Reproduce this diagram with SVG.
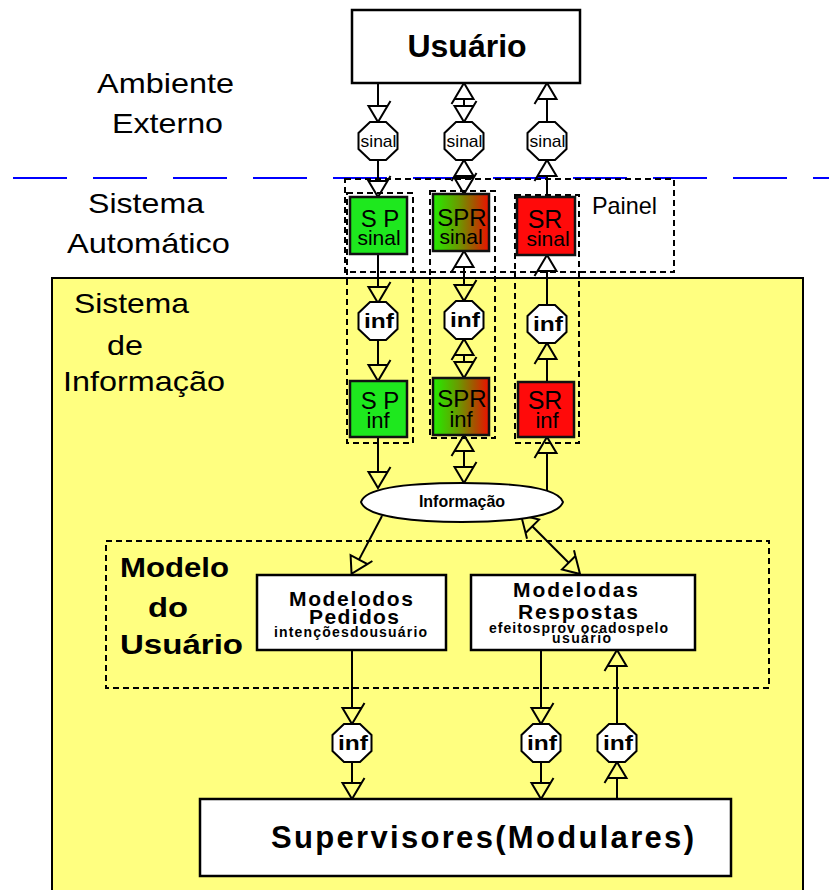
<svg xmlns="http://www.w3.org/2000/svg" width="829" height="890" viewBox="0 0 829 890">
<style>
.lbl{font-family:"Liberation Sans",Arial,sans-serif;fill:#000}
.b{font-weight:bold}
.c{text-anchor:middle}
.con{stroke:#000;stroke-width:2;fill:none}
.dash{stroke:#000;stroke-width:2;fill:none;stroke-dasharray:6 4}
.box{stroke:#111;stroke-width:2.5}
.oct{fill:#fff;stroke:#000;stroke-width:2}
.wbox{fill:#fff;stroke:#000;stroke-width:2.5}
</style>
<defs>
<marker id="ar" markerUnits="userSpaceOnUse" viewBox="-8 -14 26 28" refX="0" refY="0" markerWidth="26" markerHeight="28" orient="auto-start-reverse" overflow="visible">
<path d="M0,-9.5 L16,0 L0,9.5 Z M0,-9.5 L-5,-12.5" fill="none" stroke="#000" stroke-width="2" stroke-linejoin="miter"/>
</marker>
<path id="oct" d="M-8,-19 L8,-19 L19.5,-8 L19.5,8 L8,19 L-8,19 L-19.5,8 L-19.5,-8 Z"/>
<linearGradient id="spr" x1="0" y1="0" x2="1" y2="0">
<stop offset="0" stop-color="#22ee00"/>
<stop offset="0.45" stop-color="#6a9a00"/>
<stop offset="0.75" stop-color="#a85000"/>
<stop offset="1" stop-color="#ee1000"/>
</linearGradient>
</defs>
<rect width="829" height="890" fill="#fff"/>
<g id="sistema-informacao">
<rect x="52" y="278" width="751" height="630" fill="#ffff80" stroke="#000" stroke-width="2"/>
<text class="lbl" x="74" y="313" font-size="28" textLength="115" lengthAdjust="spacingAndGlyphs">Sistema</text>
<text class="lbl" x="107" y="355" font-size="28" textLength="36" lengthAdjust="spacingAndGlyphs">de</text>
<text class="lbl" x="63" y="391" font-size="28" textLength="162" lengthAdjust="spacingAndGlyphs">Informação</text>
</g>
<line x1="13" y1="178" x2="829" y2="178" stroke="#0000ff" stroke-width="2" stroke-dasharray="54 26"/>
<g id="labels">
<text class="lbl" x="97" y="93" font-size="28" textLength="137" lengthAdjust="spacingAndGlyphs">Ambiente</text>
<text class="lbl" x="112" y="133" font-size="28" textLength="111" lengthAdjust="spacingAndGlyphs">Externo</text>
<text class="lbl" x="88" y="213" font-size="28" textLength="116" lengthAdjust="spacingAndGlyphs">Sistema</text>
<text class="lbl" x="67" y="253" font-size="28" textLength="163" lengthAdjust="spacingAndGlyphs">Automático</text>
</g>
<g id="painel">
<rect class="dash" x="345" y="179" width="329" height="93"/>
<text class="lbl" x="592" y="214" font-size="24" textLength="65" lengthAdjust="spacingAndGlyphs">Painel</text>
</g>
<g id="colunas">
<rect class="dash" x="347" y="193" width="66" height="250"/>
<rect class="dash" x="430" y="191" width="65" height="247"/>
<rect class="dash" x="515" y="195" width="64" height="248"/>
</g>
<g id="modelo-usuario">
<rect class="dash" x="106" y="541" width="663" height="147"/>
<text class="lbl b" x="120" y="577" font-size="28" textLength="109" lengthAdjust="spacingAndGlyphs">Modelo</text>
<text class="lbl b" x="148" y="617" font-size="28" textLength="40" lengthAdjust="spacingAndGlyphs">do</text>
<text class="lbl b" x="120" y="654" font-size="28" textLength="123" lengthAdjust="spacingAndGlyphs">Usuário</text>
</g>
<g id="connectors" class="con">
<line x1="378" y1="83" x2="378" y2="106" marker-end="url(#ar)"/>
<line x1="378" y1="160" x2="378" y2="181" marker-end="url(#ar)"/>
<line x1="378" y1="254" x2="378" y2="287" marker-end="url(#ar)"/>
<line x1="378" y1="340" x2="378" y2="365" marker-end="url(#ar)"/>
<line x1="378" y1="437" x2="378" y2="472" marker-end="url(#ar)"/>
<line x1="464" y1="99" x2="464" y2="106" marker-start="url(#ar)" marker-end="url(#ar)"/>
<line x1="464" y1="176" x2="464" y2="178" marker-start="url(#ar)" marker-end="url(#ar)"/>
<line x1="464" y1="267" x2="464" y2="285" marker-start="url(#ar)" marker-end="url(#ar)"/>
<line x1="464" y1="355" x2="464" y2="362" marker-start="url(#ar)" marker-end="url(#ar)"/>
<line x1="464" y1="451" x2="464" y2="467" marker-start="url(#ar)" marker-end="url(#ar)"/>
<line x1="547" y1="122" x2="547" y2="99" marker-end="url(#ar)"/>
<line x1="547" y1="197" x2="547" y2="176" marker-end="url(#ar)"/>
<line x1="547" y1="305" x2="547" y2="271" marker-end="url(#ar)"/>
<line x1="547" y1="382" x2="547" y2="359" marker-end="url(#ar)"/>
<line x1="547" y1="491" x2="547" y2="453" marker-end="url(#ar)"/>
<line x1="382" y1="516" x2="359" y2="559.6" marker-end="url(#ar)"/>
<line x1="532.3" y1="526.3" x2="568.7" y2="562.7" marker-start="url(#ar)" marker-end="url(#ar)"/>
<line x1="352" y1="650" x2="352" y2="708" marker-end="url(#ar)"/>
<line x1="352" y1="762" x2="352" y2="783" marker-end="url(#ar)"/>
<line x1="541" y1="650" x2="541" y2="708" marker-end="url(#ar)"/>
<line x1="541" y1="762" x2="541" y2="783" marker-end="url(#ar)"/>
<line x1="617" y1="799" x2="617" y2="778" marker-end="url(#ar)"/>
<line x1="617" y1="724" x2="617" y2="666" marker-end="url(#ar)"/>
</g>
<g id="usuario">
<rect class="wbox" x="352" y="10" width="228" height="73"/>
<text class="lbl b c" x="467" y="57" font-size="32">Usuário</text>
</g>
<g id="sinal-1"><use href="#oct" class="oct" transform="translate(378,141)"/><text class="lbl c" x="378.5" y="147" font-size="17" textLength="36" lengthAdjust="spacingAndGlyphs">sinal</text></g>
<g id="sinal-2"><use href="#oct" class="oct" transform="translate(464,141)"/><text class="lbl c" x="464.5" y="147" font-size="17" textLength="36" lengthAdjust="spacingAndGlyphs">sinal</text></g>
<g id="sinal-3"><use href="#oct" class="oct" transform="translate(547,141)"/><text class="lbl c" x="547.5" y="147" font-size="17" textLength="36" lengthAdjust="spacingAndGlyphs">sinal</text></g>
<g id="sp-sinal">
<rect class="box" x="350" y="197" width="57" height="57" fill="#1ee81e"/>
<text class="lbl c" x="380" y="227" font-size="24">S P</text>
<text class="lbl c" x="379" y="245" font-size="21">sinal</text>
</g>
<g id="spr-sinal">
<rect class="box" x="433" y="194" width="56" height="57" fill="url(#spr)"/>
<text class="lbl c" x="462" y="226" font-size="24">SPR</text>
<text class="lbl c" x="461" y="244" font-size="21">sinal</text>
</g>
<g id="sr-sinal">
<rect class="box" x="517" y="197" width="58" height="58" fill="#ff0a0a"/>
<text class="lbl c" x="545" y="228" font-size="25">SR</text>
<text class="lbl c" x="548" y="246" font-size="21">sinal</text>
</g>
<g id="inf-1"><use href="#oct" class="oct" transform="translate(378,321)"/><text class="lbl b c" x="379" y="328" font-size="21" textLength="30" lengthAdjust="spacingAndGlyphs">inf</text></g>
<g id="inf-2"><use href="#oct" class="oct" transform="translate(464,320)"/><text class="lbl b c" x="465" y="327" font-size="21" textLength="30" lengthAdjust="spacingAndGlyphs">inf</text></g>
<g id="inf-3"><use href="#oct" class="oct" transform="translate(547,324)"/><text class="lbl b c" x="548" y="331" font-size="21" textLength="30" lengthAdjust="spacingAndGlyphs">inf</text></g>
<g id="sp-inf">
<rect class="box" x="350" y="381" width="57" height="56" fill="#1ee81e"/>
<text class="lbl c" x="380" y="409" font-size="24">S P</text>
<text class="lbl c" x="378" y="428" font-size="22">inf</text>
</g>
<g id="spr-inf">
<rect class="box" x="433" y="378" width="56" height="57" fill="url(#spr)"/>
<text class="lbl c" x="462" y="407" font-size="24">SPR</text>
<text class="lbl c" x="461" y="427" font-size="22">inf</text>
</g>
<g id="sr-inf">
<rect class="box" x="518" y="382" width="56" height="55" fill="#ff0a0a"/>
<text class="lbl c" x="545" y="409" font-size="25">SR</text>
<text class="lbl c" x="547" y="428" font-size="22">inf</text>
</g>
<g id="informacao">
<path d="M361,502 C366,486 420,483 462,483 C505,483 558,486 563,502 C558,518 505,522 462,522 C420,522 366,518 361,502 Z" fill="#fff" stroke="#000" stroke-width="2"/>
<text class="lbl b c" x="462" y="507" font-size="16">Informação</text>
</g>
<g id="modelo-pedidos">
<rect class="wbox" x="257" y="575" width="189" height="75"/>
<text class="lbl b c" x="351" y="606" font-size="21" textLength="124">Modelodos</text>
<text class="lbl b c" x="354" y="624" font-size="21" textLength="90">Pedidos</text>
<text class="lbl b c" x="350.5" y="637" font-size="14" textLength="153">intençõesdousuário</text>
</g>
<g id="modelo-respostas">
<rect class="wbox" x="471" y="575" width="224" height="75"/>
<text class="lbl b c" x="575.5" y="597" font-size="21" textLength="125">Modelodas</text>
<text class="lbl b c" x="578" y="619" font-size="21" textLength="120">Respostas</text>
<text class="lbl b c" x="578.5" y="633" font-size="14" textLength="179">efeitosprov ocadospelo</text>
<text class="lbl b c" x="581.5" y="643" font-size="14" textLength="59">usuário</text>
</g>
<g id="inf-4"><use href="#oct" class="oct" transform="translate(352,743)"/><text class="lbl b c" x="353" y="750" font-size="21" textLength="30" lengthAdjust="spacingAndGlyphs">inf</text></g>
<g id="inf-5"><use href="#oct" class="oct" transform="translate(541,743)"/><text class="lbl b c" x="542" y="750" font-size="21" textLength="30" lengthAdjust="spacingAndGlyphs">inf</text></g>
<g id="inf-6"><use href="#oct" class="oct" transform="translate(617,743)"/><text class="lbl b c" x="618" y="750" font-size="21" textLength="30" lengthAdjust="spacingAndGlyphs">inf</text></g>
<g id="supervisores">
<rect class="wbox" x="200" y="799" width="531" height="77"/>
<text class="lbl b" x="271" y="848" font-size="31" textLength="423">Supervisores(Modulares)</text>
</g>
</svg>
